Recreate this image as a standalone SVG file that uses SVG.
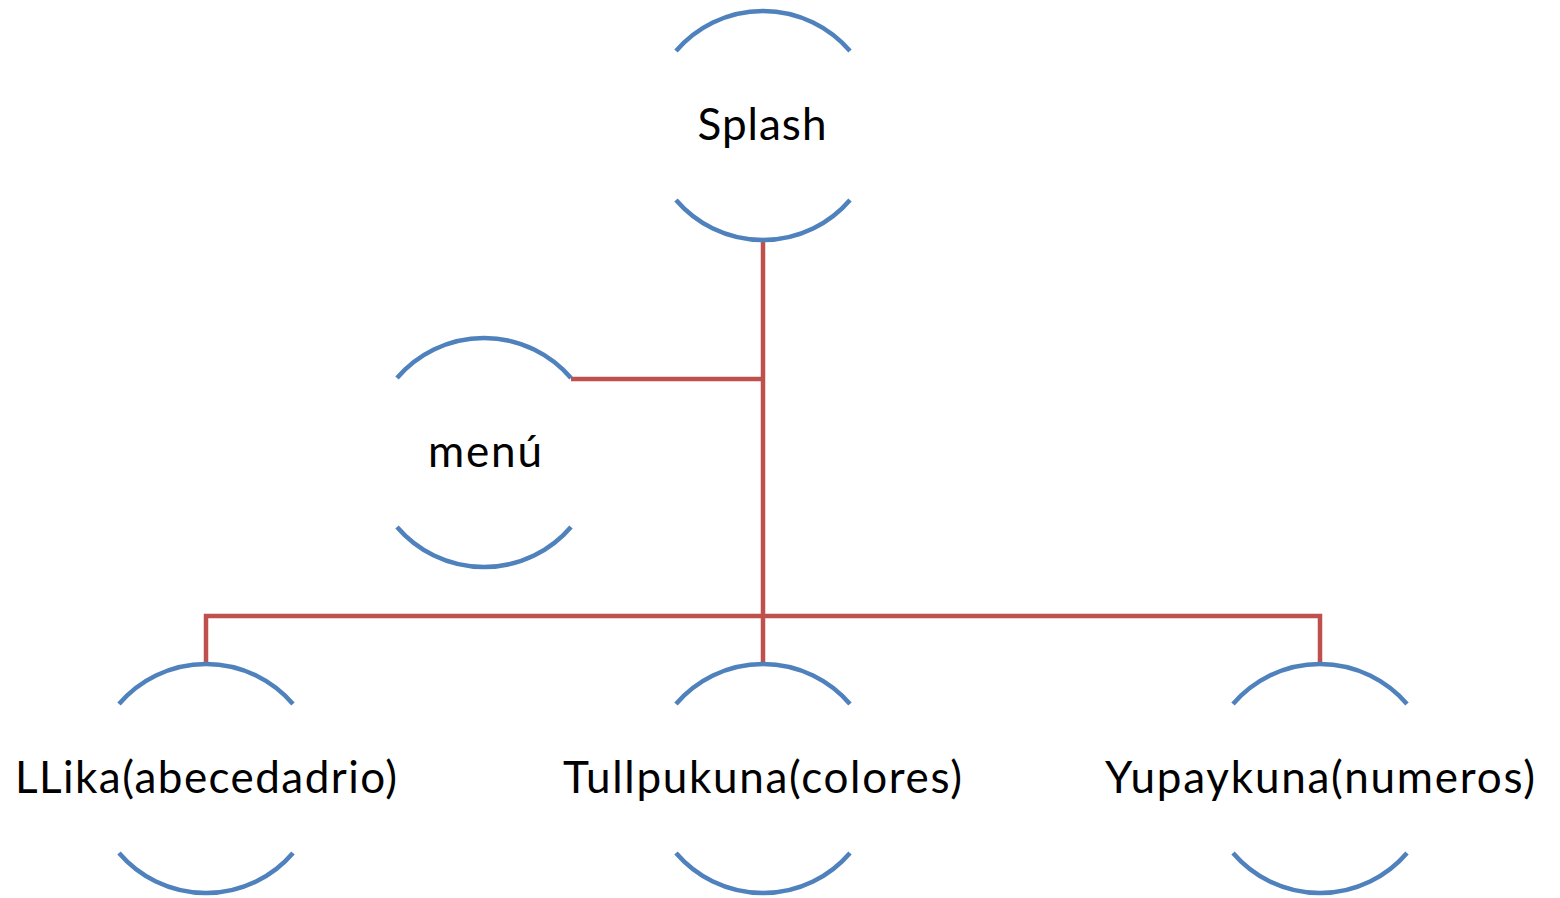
<svg xmlns="http://www.w3.org/2000/svg" width="1560" height="898" viewBox="0 0 1560 898">
  <style>
    .arc { fill: none; stroke: #4F81BD; stroke-width: 4.5; }
    .link { fill: none; stroke: #C0504D; stroke-width: 4.5; stroke-linejoin: miter; }
    .label { font-family: Lato, "Liberation Sans", sans-serif; font-size: 44px; fill: #000000; text-anchor: middle; }
  </style>
  <rect width="1560" height="898" fill="#FFFFFF"/>

  <!-- connectors -->
  <g id="connectors">
    <path class="link" d="M763,240 V664"/>
    <path class="link" d="M571,379 H763"/>
    <path class="link" d="M206,664 V616 H1320 V664"/>
  </g>

  <!-- nodes: circle outline shown as top and bottom arcs -->
  <g id="node-splash">
    <path class="arc" d="M676,51 A114.5,114.5 0 0 1 850,51"/>
    <path class="arc" d="M676,200 A114.5,114.5 0 0 0 850,200"/>
    <text class="label" x="762" y="140" textLength="129">Splash</text>
  </g>

  <g id="node-menu">
    <path class="arc" d="M397,378 A114.5,114.5 0 0 1 571,378"/>
    <path class="arc" d="M397,527 A114.5,114.5 0 0 0 571,527"/>
    <text class="label" x="485" y="467" textLength="114">menú</text>
  </g>

  <g id="node-llika">
    <path class="arc" d="M119,704 A114.5,114.5 0 0 1 293,704"/>
    <path class="arc" d="M119,853 A114.5,114.5 0 0 0 293,853"/>
    <text class="label" x="206" y="793" textLength="382">LLika(abecedadrio)</text>
  </g>

  <g id="node-tullpukuna">
    <path class="arc" d="M676,704 A114.5,114.5 0 0 1 850,704"/>
    <path class="arc" d="M676,853 A114.5,114.5 0 0 0 850,853"/>
    <text class="label" x="762.5" y="793" textLength="399">Tullpukuna(colores)</text>
  </g>

  <g id="node-yupaykuna">
    <path class="arc" d="M1233,704 A114.5,114.5 0 0 1 1407,704"/>
    <path class="arc" d="M1233,853 A114.5,114.5 0 0 0 1407,853"/>
    <text class="label" x="1320" y="793" textLength="430">Yupaykuna(numeros)</text>
  </g>
</svg>
